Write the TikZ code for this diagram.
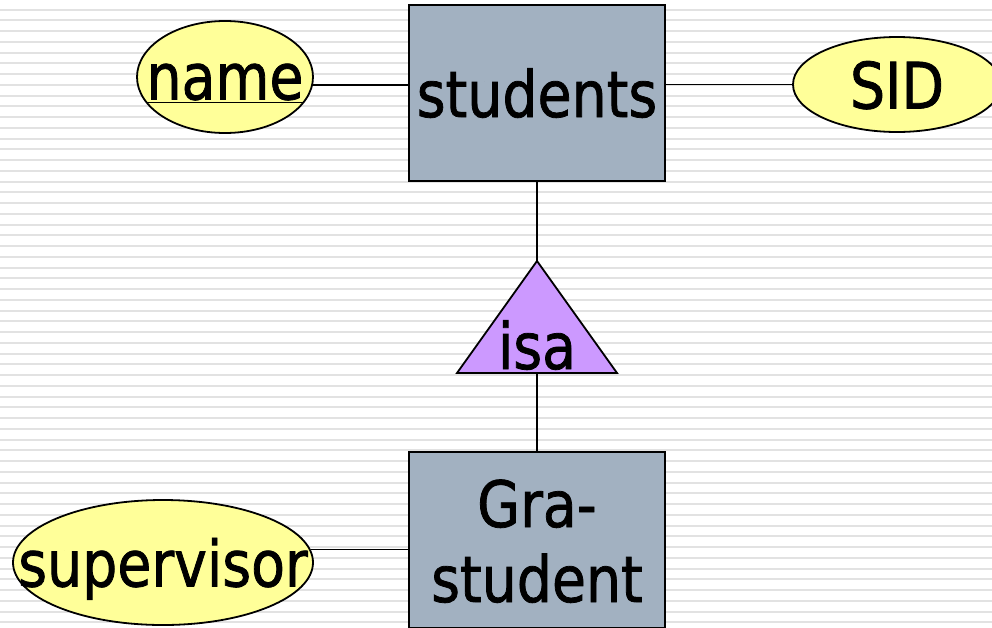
\documentclass[tikz,border=0pt]{standalone}
\usepackage{fontspec}
\setmainfont{DejaVu Sans}[FakeStretch=0.865,FakeBold=1.2]
\usetikzlibrary{shapes.geometric}

\definecolor{entfill}{RGB}{162,177,193}
\definecolor{attrfill}{RGB}{255,255,153}
\definecolor{isafill}{RGB}{204,153,255}
\definecolor{stripe}{RGB}{226,226,226}

\begin{document}
\begin{tikzpicture}[x=1pt,y=-1pt,line width=1.8pt]

\tikzstyle{every node}=[font=\fontsize{64}{75}\selectfont,text height=48pt,text depth=0pt,inner sep=0pt]
\tikzstyle{entity}=[draw,fill=entfill,minimum width=256pt,minimum height=176pt,align=center]
\tikzstyle{attr}=[draw,ellipse,fill=attrfill]

\useasboundingbox (0,0) rectangle (992,627);
\clip (0,0) rectangle (992,627);

% striped background
\fill[white] (0,0) rectangle (992,627);
\foreach \k in {0,...,57}
  \draw[stripe,line width=2pt] (0,9.5+10.75*\k) -- (992,9.5+10.75*\k);

\node[entity] (students) at (537,93) {students};
\node[entity,text height=124pt] (grad) at (537,540) {Gra-\\student};

% attribute text sits in zero-width boxes so the ellipse keeps its size
\node[attr,minimum width=176pt,minimum height=112pt,text height=45pt] (name) at (225,77) {\makebox[0pt]{\underline{name}}};
\node[attr,minimum width=208pt,minimum height=95pt] (sid) at (897,84.5) {\makebox[0pt]{SID}};
\node[attr,minimum width=300pt,minimum height=125pt] (supervisor) at (163,562.5) {\makebox[0pt]{supervisor}};

% isa triangle
\coordinate (isatop) at (537,261);
\coordinate (isabase) at (537,373);
\filldraw[fill=isafill,line join=miter] (isatop) -- (617,373) -- (457,373) -- cycle;
\node (isa) at (537,345) {isa};

\draw (students.south) -- (isatop);
\draw (isabase) -- (grad.north);
\draw (name.-5.5) -- (name.-5.5 -| students.west);
\draw (sid.west -| students.east) -- (sid.west);
\draw (supervisor.5.5) -- (supervisor.5.5 -| grad.west);

\end{tikzpicture}
\end{document}
